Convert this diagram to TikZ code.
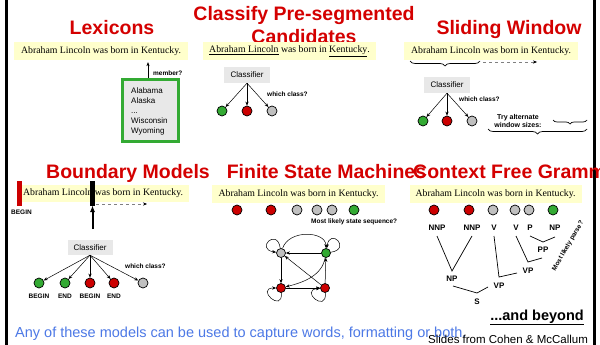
\documentclass[tikz,border=0pt]{standalone}
\usepackage{fontspec}
\setmainfont{Liberation Serif}
\setsansfont{Liberation Sans}
\usetikzlibrary{arrows.meta,decorations.pathreplacing,calc}
\definecolor{tred}{RGB}{212,0,0}
\definecolor{syel}{RGB}{255,255,204}
\definecolor{cgray}{RGB}{232,232,232}
\definecolor{sgreen}{RGB}{51,170,51}
\definecolor{sred}{RGB}{204,0,0}
\definecolor{sgray}{RGB}{192,192,192}
\definecolor{tblue}{RGB}{77,121,230}
\begin{document}
\begin{tikzpicture}[x=1pt,y=-1pt,
  title/.style={font=\sffamily\bfseries\fontsize{19.5}{21}\selectfont, text=tred, inner sep=0, anchor=base},
  sent/.style={fill=syel, inner sep=0, font=\fontsize{9.8}{11}\selectfont, minimum height=18pt},
  clf/.style={fill=cgray, inner sep=0, font=\sffamily\fontsize{8}{9}\selectfont, minimum width=46pt, minimum height=16pt},
  st/.style={circle, draw=black, line width=0.7pt, minimum size=10pt, inner sep=0},
  gs/.style={st, fill=sgreen}, rs/.style={st, fill=sred}, ys/.style={st, fill=sgray},
  fst/.style={minimum size=9pt},
  lab/.style={font=\sffamily\bfseries\fontsize{6.5}{7}\selectfont, inner sep=0},
  cfg/.style={font=\sffamily\bfseries\fontsize{8}{9}\selectfont, inner sep=0},
  arr/.style={-{Stealth[length=4pt,width=3.2pt]}, line width=0.5pt},
  darr/.style={dashed, draw=gray, line width=0.5pt, -{Stealth[length=4pt,width=3.2pt,black]}},
  brc/.style={decorate, decoration={brace, mirror, amplitude=5pt}, line width=0.7pt},
  tl/.style={line width=0.7pt},
  ]
\useasboundingbox (0,0) rectangle (600,345);
\clip (0,0) rectangle (600,345);
\fill[white] (0,0) rectangle (600,345);
% borders
\fill[black] (5.2,0) rectangle (7.5,345);
\fill[black] (592.5,0) rectangle (595.5,345);

% ---------- Lexicons
\node[title] (t1) at (112,35) {Lexicons};
\node[sent, minimum width=174pt] (s1) at (101,51) {Abraham Lincoln was born in Kentucky.};
\node[draw=sgreen, line width=3pt, fill=cgray, minimum width=56pt, minimum height=62pt, inner sep=0] (lex) at (150.5,110.5) {};
\node[anchor=west, align=left, inner sep=0, font=\sffamily\fontsize{8}{10}\selectfont] (lexi) at (131,111) {Alabama\\Alaska\\...\\Wisconsin\\Wyoming};
\draw[arr, shorten >=2pt] ([xshift=-2.5pt]lex.north) -- ([xshift=-2.5pt]lex.north |- s1.south);
\node[lab, anchor=west] (mem) at (153,73) {member?};

% ---------- Classify
\node[title] (t2a) at (304,21) {Classify Pre-segmented};
\node[title] (t2b) at (304,44) {Candidates};
\node[sent, minimum width=173pt] (s2) at (289.5,51) {\underline{Abraham Lincoln} was born in \underline{Kentucky}.};
\node[clf] (c2) at (247,75) {Classifier};
\node[gs] (a1) at (222,111) {};
\node[rs] (a2) at (247,111) {};
\node[ys] (a3) at (272,111) {};
\foreach \n in {a1,a2,a3} \draw[arr] (c2.south) -- (\n);
\node[lab, anchor=west] (w2) at (267,94) {which class?};

% ---------- Sliding window
\node[title] (t3) at (509,35) {Sliding Window};
\node[sent, minimum width=174pt] (s3) at (491,51) {Abraham Lincoln was born in Kentucky.};
\coordinate (b3l) at (410,61);
\coordinate (b3r) at (480,61);
\draw[brc] (b3l) -- (b3r);
\coordinate (d3a) at (483,62);
\coordinate (d3b) at (537,62);
\draw[darr] (d3a) -- (d3b);
\node[clf] (c3) at (447,85) {Classifier};
\node[gs] (b1) at (423,121) {};
\node[rs] (b2) at (447,121) {};
\node[ys] (b3) at (472,121) {};
\foreach \n in {b1,b2,b3} \draw[arr] (c3.south) -- (\n);
\node[lab, anchor=west] (w3) at (459,99) {which class?};
\node[lab, align=center, font=\sffamily\bfseries\fontsize{7}{8.5}\selectfont] (try) at (518,121) {Try alternate\\window sizes:};
\coordinate (sb1) at (553,120);
\coordinate (sb2) at (587,120);
\draw[brc, decoration={brace, mirror, amplitude=4pt}] (sb1) -- (sb2);
\coordinate (bb1) at (488,129);
\coordinate (bb2) at (587,129);
\draw[brc] (bb1) -- (bb2);

% ---------- Boundary models
\node[title] (t4) at (128,178) {Boundary Models};
\node[sent, minimum width=172pt, minimum height=17pt] (s4) at (103,193.5) {Abraham Lincoln was born in Kentucky.};
\fill[sred] (17,181) rectangle (22,206);
\node[lab] (bg) at (21.5,212) {BEGIN};
\fill[black] (90,181) rectangle (95,206);
\coordinate (ba) at (92.5,229);
\coordinate (bb) at (92.5,205);
\draw[-{Latex[length=7pt,width=5pt]}, line width=2pt] (ba) -- (bb);
\coordinate (d4a) at (96,204);
\coordinate (d4b) at (147,204);
\draw[darr] (d4a) -- (d4b);
\node[clf, minimum width=45pt, minimum height=15pt] (c4) at (90,247.5) {Classifier};
\node[gs] (e1) at (39,283) {};
\node[gs] (e2) at (65,283) {};
\node[rs] (e3) at (90,283) {};
\node[rs] (e4) at (114,283) {};
\node[ys] (e5) at (143,283) {};
\foreach \n in {e1,e2,e3,e4,e5} \draw[arr] (c4.south) -- (\n);
\node[lab] (l1) at (39,296) {BEGIN};
\node[lab] (l2) at (65,296) {END};
\node[lab] (l3) at (90,296) {BEGIN};
\node[lab] (l4) at (114,296) {END};
\node[lab, anchor=west] (w4) at (125,266) {which class?};

% ---------- Finite state machines
\node[title] (t5) at (326.5,178) {Finite State Machines};
\node[sent, minimum width=173pt] (s5) at (298.5,194) {Abraham Lincoln was born in Kentucky.};
\node[rs] (f1) at (237,210) {};
\node[rs] (f2) at (271,210) {};
\node[ys] (f3) at (297,210) {};
\node[ys] (f4) at (317,210) {};
\node[ys] (f5) at (332,210) {};
\node[gs] (f6) at (354,210) {};
\node[lab, anchor=west] (w5) at (311,222) {Most likely state sequence?};
\node[ys, fst] (q1) at (281,253) {};
\node[gs, fst] (q2) at (326,253) {};
\node[rs, fst] (q3) at (281,288) {};
\node[rs, fst] (q4) at (325,288) {};
\draw[arr] (q2) -- (q1);
\draw[arr] (q1) -- (q3);
\draw[arr] (q3) -- (q4);
\draw[arr] (q4) -- (q2);
\draw[arr] (q4) -- (q1);
\draw[arr] (q1) .. controls +(8,-24) and +(0,-22) .. (q2);
\draw[arr] (q2) .. controls +(-4,22) and +(24,-6) .. (q3);
\draw[arr] (q1) .. controls +(-4,-26) and +(-26,-4) .. (q1);
\draw[arr] (q2) .. controls +(26,-4) and +(4,-26) .. (q2);
\draw[arr] (q3) .. controls +(2,26) and +(-26,0) .. (q3);
\draw[arr] (q4) .. controls +(2,26) and +(-26,2) .. (q4);

% ---------- Context free grammars
\node[title, anchor=base west] (t6) at (413,178) {Context Free Grammars};
\node[sent, minimum width=172pt] (s6) at (495.5,194) {Abraham Lincoln was born in Kentucky.};
\node[rs] (g1) at (434,210) {};
\node[rs] (g2) at (469,210) {};
\node[ys] (g3) at (493,210) {};
\node[ys] (g4) at (515,210) {};
\node[ys] (g5) at (529,210) {};
\node[gs] (g6) at (553,210) {};
\node[cfg] (n1) at (437,228) {NNP};
\node[cfg] (n2) at (472,228) {NNP};
\node[cfg] (n3) at (494,228) {V};
\node[cfg] (n4) at (516,228) {V};
\node[cfg] (n5) at (530,228) {P};
\node[cfg] (n6) at (555,228) {NP};
\node[cfg] (pp) at (543,250) {PP};
\node[cfg] (vp1) at (528,271) {VP};
\node[cfg] (vp2) at (499,286) {VP};
\node[cfg] (np) at (452,279) {NP};
\node[cfg] (ss) at (477,302) {S};
\draw[tl] (437,236) -- (452,271) -- (472,236);
\draw[tl] (530,236) -- (543,242) -- (555,237);
\draw[tl] (516,236) -- (528,262) -- (542,258);
\draw[tl] (494,236) -- (499,277) -- (517,273);
\draw[tl] (453,286) -- (477,293) -- (488,287);
\node[lab, rotate=60] (mlp) at (568,246) {Most likely parse?};

% ---------- bottom
\node[font=\sffamily\bfseries\fontsize{14.5}{16}\selectfont, inner sep=0, anchor=base] (beyond) at (537,320) {\underline{...and beyond}};
\node[font=\sffamily\fontsize{14.5}{16}\selectfont, text=tblue, inner sep=0, anchor=base west] (any) at (15,337) {Any of these models can be used to capture words, formatting or both.};
\node[font=\sffamily\fontsize{11.5}{13}\selectfont, inner sep=0, anchor=base west] (slides) at (428,343) {Slides from Cohen \& McCallum};
\end{tikzpicture}
\end{document}
